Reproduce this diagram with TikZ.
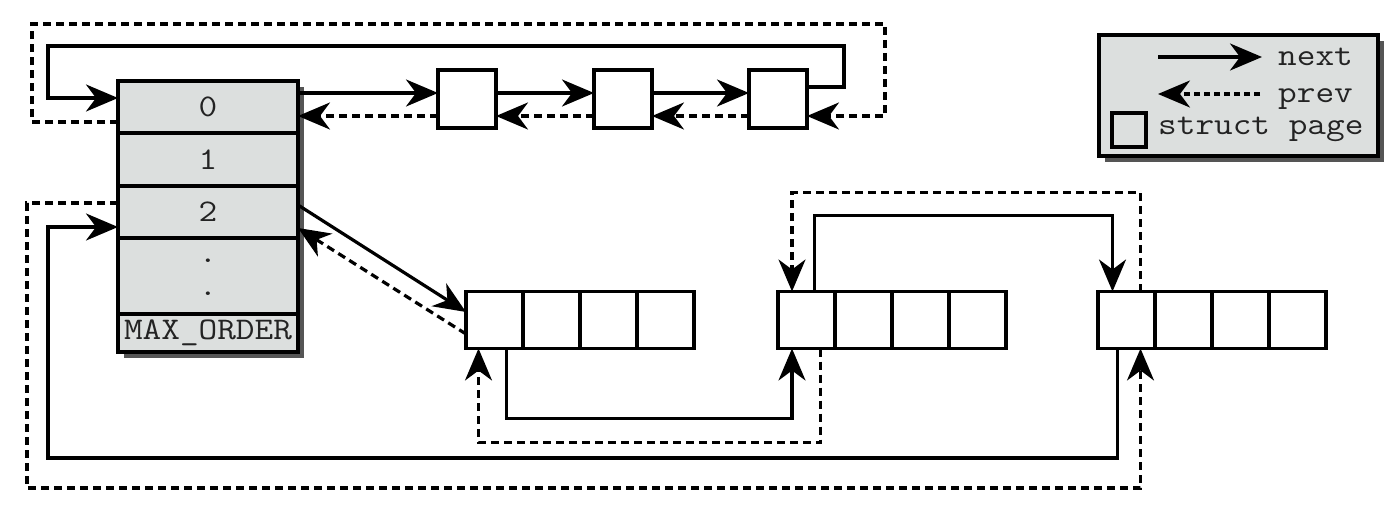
\documentclass[tikz,border=0pt]{standalone}
\usepackage{fontspec}
\newfontfamily\ordertt[FakeStretch=1.15]{Latin Modern Mono}
\usetikzlibrary{arrows.meta,positioning,backgrounds}
\definecolor{tablegray}{RGB}{220,223,222}
\definecolor{shadowgray}{RGB}{85,85,85}
\definecolor{inkgray}{RGB}{35,35,35}
\newcommand{\orderfont}{\fontsize{31.5}{36}\selectfont\ordertt}

\begin{document}
\begin{tikzpicture}[x=1pt,y=-1pt,>={Stealth[length=32pt,width=27pt,inset=10pt]},
    orderrow/.style={draw,fill=tablegray,line width=3.2pt,minimum width=180pt,inner sep=0pt,outer sep=0pt,font=\orderfont,text=inkgray},
    page/.style={draw,fill=white,line width=3.8pt,minimum width=58pt,minimum height=58pt,inner sep=0pt,outer sep=0pt},
    cell/.style={page,minimum width=57pt,minimum height=57pt},
    keytext/.style={font=\orderfont,text=inkgray,inner sep=0pt,anchor=base west},
    nextline/.style={->,line width=3.2pt},
    prevline/.style={->,line width=3.2pt,dash pattern=on 8pt off 5pt}]

\useasboundingbox (0,0) rectangle (1400,514);

% free_area table
\node[orderrow,minimum height=52pt] (row0) at (208,107) {0};
\node[orderrow,minimum height=53pt,below=0pt of row0] (row1) {1};
\node[orderrow,minimum height=52pt,below=0pt of row1] (row2) {2};
\node[orderrow,minimum height=76pt,below=0pt of row2] (rowdots) {};
\node[orderrow,minimum height=38pt,below=0pt of rowdots] (rowmax) {MAX\_ORDER};
\node[font=\orderfont,text=inkgray,inner sep=0pt] (dot1) at ([yshift=15pt]rowdots.center) {.};
\node[font=\orderfont,text=inkgray,inner sep=0pt] (dot2) at ([yshift=-18pt]rowdots.center) {.};

% order 0 pages
\node[page] (box1) at (467,99) {};
\node[page,right=98pt of box1] (box2) {};
\node[page,right=97pt of box2] (box3) {};

% order 2 blocks
\foreach \blk/\x in {a/466,b/778,c/1098}{
  \node[cell,anchor=west] (\blk1) at (\x,320) {};
  \foreach \i/\j in {2/1,3/2,4/3}
    \node[cell,right=0pt of \blk\j] (\blk\i) {};
}

% legend
\node[draw,fill=tablegray,line width=3.2pt,minimum width=279pt,minimum height=121pt,outer sep=0pt] (legend) at (1238.5,95.5) {};
\node[keytext] (nextlbl) at (1278,65) {next};
\node[keytext] (prevlbl) at (1278,102) {prev};
\node[page,fill=none,minimum width=34pt,minimum height=34pt] (pagekey) at (1129,130) {};
\node[keytext] (pagelbl) at (1158,134) {struct page};
\coordinate (nextstart) at (1158,57);
\coordinate (prevend) at (1158,94);
\draw[nextline,shorten >=16pt] (nextstart) -- (nextstart -| nextlbl.west);
\draw[prevline,dash pattern=on 6pt off 4pt,shorten <=18pt] (prevend -| prevlbl.west) -- (prevend);

% shadows
\begin{scope}[on background layer]
  \fill[shadowgray] ([shift={(6,6)}]row0.north west) rectangle ([shift={(6,6)}]rowmax.south east);
  \fill[shadowgray] ([shift={(6,6)}]legend.north west) rectangle ([shift={(6,6)}]legend.south east);
\end{scope}

% order 0 list
\path[nextline]
  ([yshift=14pt]row0.east) edge ([yshift=6pt]box1.west)
  ([yshift=6pt]box1.east) edge ([yshift=6pt]box2.west)
  ([yshift=6pt]box2.east) edge ([yshift=6pt]box3.west);
\path[prevline]
  ([yshift=-17pt]box1.west) edge ([yshift=-9pt]row0.east)
  ([yshift=-17pt]box2.west) edge ([yshift=-17pt]box1.east)
  ([yshift=-17pt]box3.west) edge ([yshift=-17pt]box2.east);
\draw[nextline] ([yshift=12pt]box3.east) -| (844,46) -| (48,98) -- ([yshift=9pt]row0.west);
\draw[prevline] ([yshift=-15pt]row0.west) -| (32,24) -| (885,116) -- ([yshift=-17pt]box3.east);

% order 2 list
\draw[nextline] ([yshift=7pt]row2.east) -- ([yshift=8pt]a1.west);
\draw[prevline] ([yshift=-14pt]a1.west) -- ([yshift=-16pt]row2.east);
\draw[nextline] ([xshift=12pt]a1.south) -- ++(0,70) -| ([xshift=-14.5pt]b1.south);
\draw[prevline] ([xshift=14pt]b1.south) -- ++(0,94) -| ([xshift=-16pt]a1.south);
\draw[nextline] ([xshift=8pt]b1.north) -- ++(0,-76) -| ([xshift=-14pt]c1.north);
\draw[prevline] ([xshift=14pt]c1.north) -- ++(0,-99) -| ([xshift=-14.5pt]b1.north);
\draw[nextline] ([xshift=-9pt]c1.south) |- (48,458) |- ([yshift=-15pt]row2.west);
\draw[prevline] ([yshift=9pt]row2.west) -| (27,488) -| ([xshift=14pt]c1.south);
\end{tikzpicture}
\end{document}
